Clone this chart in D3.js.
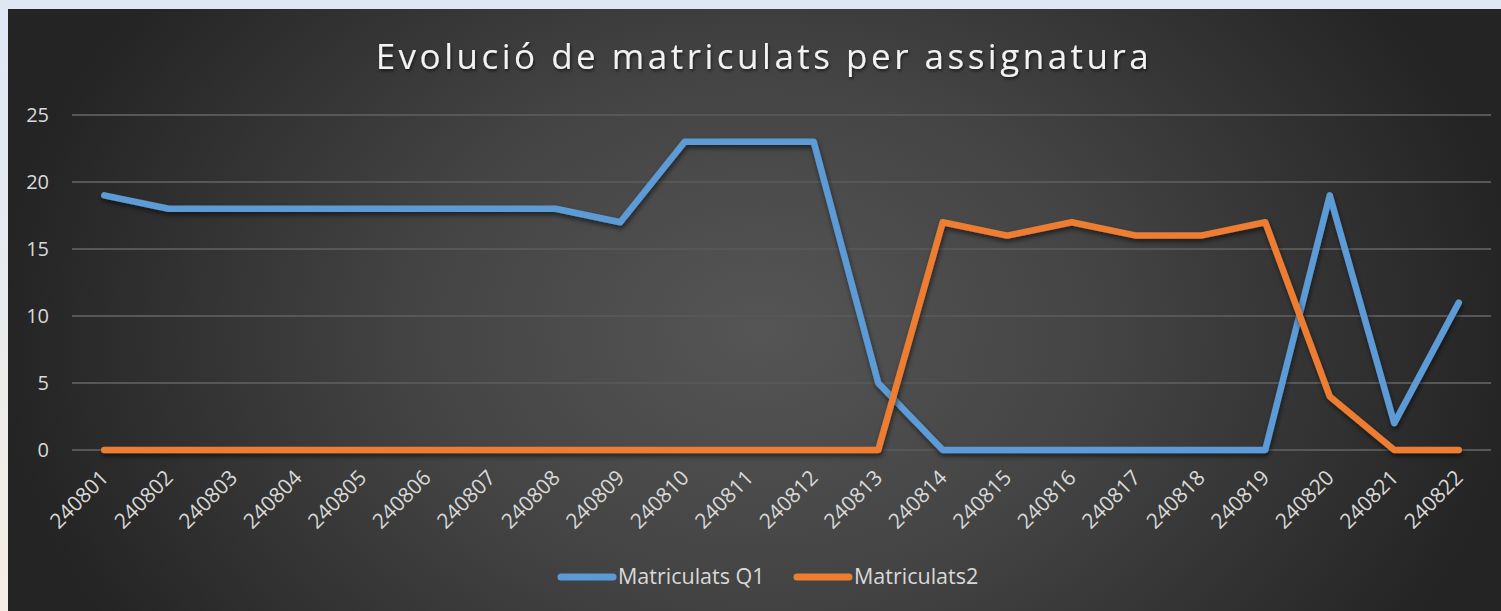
<!DOCTYPE html>
<html><head><meta charset="utf-8">
<script src="https://cdn.jsdelivr.net/npm/d3@7"></script>
<style>html,body{margin:0;padding:0;background:#dde5f2;overflow:hidden}</style>
</head><body>
<svg id="c" width="1501" height="611"></svg>
<script>
const categories = ["240801","240802","240803","240804","240805","240806","240807","240808","240809","240810","240811","240812","240813","240814","240815","240816","240817","240818","240819","240820","240821","240822"];
const seriesQ1 = [19,18,18,18,18,18,18,18,17,23,23,23,5,0,0,0,0,0,0,19,2,11];
const series2 = [0,0,0,0,0,0,0,0,0,0,0,0,0,17,16,17,16,16,17,4,0,0];
const yTicks = [0,5,10,15,20,25];
const seriesNames = ["Matriculats Q1","Matriculats2"];
const colors = ["#5B9BD5","#ED7D31"];
const title = "Evolució de matriculats per assignatura";

const FONT = "'Open Sans', 'Noto Sans', sans-serif";
const svg = d3.select("#c");
const W = 1501, H = 611;
const defs = svg.append("defs");
const bgOut = defs.append("linearGradient").attr("id","bgout").attr("x1",0).attr("y1",0).attr("x2",0).attr("y2",1);
bgOut.append("stop").attr("offset","0%").attr("stop-color","#dfe7f5");
bgOut.append("stop").attr("offset","100%").attr("stop-color","#f4efe4");
svg.append("rect").attr("width",W).attr("height",H).attr("fill","url(#bgout)");

const rg = defs.append("radialGradient").attr("id","bg").attr("gradientUnits","userSpaceOnUse")
  .attr("cx",760).attr("cy",330).attr("r",760).attr("gradientTransform","translate(760,330) scale(1,0.75) translate(-760,-330)");
rg.append("stop").attr("offset","0%").attr("stop-color","#555555");
rg.append("stop").attr("offset","45%").attr("stop-color","#444444");
rg.append("stop").attr("offset","100%").attr("stop-color","#242424");
svg.append("rect").attr("x",8).attr("y",9).attr("width",W-8).attr("height",H-9).attr("fill","url(#bg)");

const f = defs.append("filter").attr("id","sh").attr("x","-10%").attr("y","-10%").attr("width","120%").attr("height","130%");
f.append("feDropShadow").attr("dx",1).attr("dy",3).attr("stdDeviation",2.5).attr("flood-color","#000").attr("flood-opacity",0.55);
const ft = defs.append("filter").attr("id","tsh").attr("x","-5%").attr("y","-20%").attr("width","110%").attr("height","150%");
ft.append("feDropShadow").attr("dx",1).attr("dy",2).attr("stdDeviation",1.5).attr("flood-color","#000").attr("flood-opacity",0.6);

const pLeft = 72, pRight = 1491, pTop = 115, pBottom = 450;
const x = d3.scalePoint().domain(categories).range([pLeft, pRight]).padding(0.5);
const y = d3.scaleLinear().domain([0,25]).range([pBottom, pTop]);

// gridlines
svg.append("g").selectAll("line").data(yTicks).join("line")
  .attr("x1",pLeft).attr("x2",pRight).attr("y1",d=>y(d)).attr("y2",d=>y(d))
  .attr("stroke","#575757").attr("stroke-width",2);

// y axis
const ya = svg.append("g").attr("transform",`translate(${pLeft},0)`)
  .call(d3.axisLeft(y).tickValues(yTicks).tickSize(0).tickPadding(23));
ya.select(".domain").remove();
ya.selectAll("text").attr("fill","#d9d9d9").style("font-family",FONT).style("font-size","20px");

// x axis
const xa = svg.append("g").attr("transform",`translate(0,${pBottom})`)
  .call(d3.axisBottom(x).tickSize(0).tickPadding(0));
xa.select(".domain").remove();
xa.selectAll("text").attr("fill","#d9d9d9").style("font-family",FONT).style("font-size","21px")
  .attr("text-anchor","end").attr("dy",null).attr("y",0)
  .attr("transform","translate(5,29) rotate(-45)");

const line = d3.line().x((d,i)=>x(categories[i])).y(d=>y(d));
[seriesQ1, series2].forEach((s,k)=>{
  svg.append("path").datum(s).attr("d",line).attr("fill","none")
    .attr("stroke",colors[k]).attr("stroke-width",6.5).attr("stroke-linejoin","round").attr("stroke-linecap","round")
    .attr("filter","url(#sh)");
});

// title
svg.append("text").attr("x",764).attr("y",69).attr("text-anchor","middle")
  .attr("fill","#f2f2f2").attr("filter","url(#tsh)").style("font-family",FONT).style("font-size","35px")
  .style("letter-spacing","3.5px").text(title);

// legend
const legX = [558, 794];
seriesNames.forEach((n,k)=>{
  const g = svg.append("g").attr("transform",`translate(${legX[k]},577)`);
  g.append("line").attr("x1",3).attr("x2",55).attr("y1",0).attr("y2",0)
    .attr("stroke",colors[k]).attr("stroke-width",7).attr("stroke-linecap","round");
  g.append("text").attr("x",60).attr("y",7).attr("fill","#d9d9d9")
    .style("font-family",FONT).style("font-size","21.5px").text(n);
});
</script>
</body></html>
